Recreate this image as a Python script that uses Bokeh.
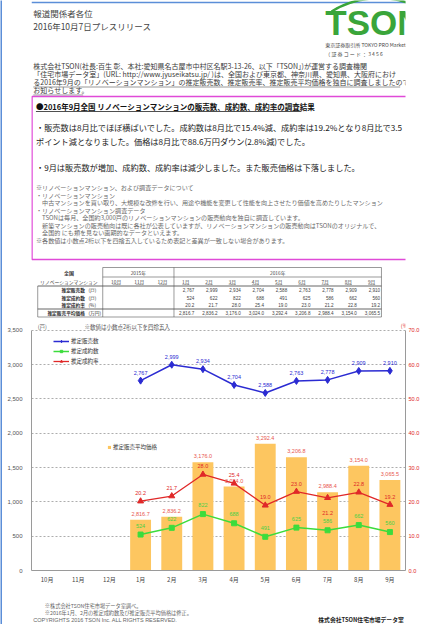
from bokeh.plotting import figure
from bokeh.models import (Range1d, FactorRange, LinearAxis, ColumnDataSource, Legend,
                          LegendItem, NumeralTickFormatter, FixedTicker, Label)
from bokeh.layouts import column, row
from bokeh.core.properties import value
from bokeh.embed import file_html
from bokeh.resources import INLINE

JP = "Noto Sans CJK JP"
LAT = "Liberation Sans"

# ---------------- data ----------------
months_all = ["10月", "11月", "12月", "1月", "2月", "3月", "4月", "5月", "6月", "7月", "8月", "9月"]
months_2016 = ["1月", "2月", "3月", "4月", "5月", "6月", "7月", "8月", "9月"]
year_labels = ["2015年", "2016年"]
listings = [2767, 2999, 2934, 2704, 2588, 2763, 2778, 2909, 2910]      # 推定販売数 (戸)
contracts = [524, 622, 822, 688, 491, 625, 586, 662, 560]               # 推定成約数 (戸)
rate = [20.2, 21.7, 28.0, 25.4, 19.0, 23.0, 21.2, 22.8, 19.2]           # 推定成約率 (%)
price = [2816.7, 2836.2, 3176.0, 3024.0, 3292.4, 3206.8, 2988.4, 3154.0, 3065.5]  # 推定販売平均価格 (万円)
left_ticks = [0, 500, 1000, 1500, 2000, 2500, 3000, 3500]
right_ticks = [0, 10, 20, 30, 40, 50, 60, 70]
price_range = (2500, 4000)
series_names = ["推定販売数", "推定成約数", "推定成約率"]
price_name = "推定販売平均価格"
row_names = ["推定販売数", "推定成約数", "推定成約率", "推定販売平均価格"]
row_units = ["(戸)", "(戸)", "(%)", "(万円)"]

# ---------------- styles ----------------
BLUE = "#2b2bd2"
GREEN = "#3cdc3c"
RED = "#e02828"
BAR = "#fdc660"
BAR_LAB = "#e8564e"
MAG = "#e04ad8"
FRAME_BLUE = "#5b8ed8"
DARK = "#333333"
HEAD = 3600 / 3500   # headroom above the top gridline for the unit captions


def T(p, x, y, s, size, color=DARK, bold=False, align="left", font=JP):
    p.text(x=[x], y=[y], text=[s], text_font=value(font), text_font_size=f"{size}px",
           text_color=color, text_align=align, text_baseline="middle",
           text_font_style="bold" if bold else "normal")


def page_fig(h, y0, y1):
    p = figure(width=420, height=h, x_range=Range1d(10, 430), y_range=Range1d(y1, y0),
               x_axis_location=None, y_axis_location=None, output_backend="svg",
               toolbar_location=None, min_border=0, title=None)
    p.grid.visible = False
    p.outline_line_color = None
    p.background_fill_color = "white"
    p.border_fill_color = "white"
    return p


# ================= top part (page coordinates) =================
pa = page_fig(323, 8, 331)
pa.segment(x0=[10], y0=[10], x1=[430], y1=[10], line_color=FRAME_BLUE, line_width=1.5)

T(pa, 12, 20.7, "報道関係者各位", 8.5, "#444")
T(pa, 12, 33, "2016年10月7日プレスリリース", 8.5, "#444")

# logo
pa.bezier(x0=[347], y0=[19], x1=[440], y1=[13], cx0=[375], cy0=[3], cx1=[414], cy1=[2],
          line_color="#3aa53a", line_width=2.5)
T(pa, 340, 29.5, "TSON", 35, "#3aa53a", bold=True, font=LAT)
T(pa, 340, 51.5, "東京証券取引所 TOKYO PRO Market", 5.0, "#444")
T(pa, 340, 60.5, "（ 証 券 コ ー ド ： 3 4 5 6", 5.0, "#444")

para = [
    "株式会社TSON(社長:百生 彰、本社:愛知県名古屋市中村区名駅3-13-26、以下「TSON」)が運営する調査機関",
    "「住宅市場データ室」(URL: http://www.jyuseikatsu.jp/ )は、全国および東京都、神奈川県、愛知県、大阪府におけ",
    "る2016年9月の「リノベーションマンション」の推定販売数、推定販売率、推定販売平均価格を独自に調査しましたので",
    "お知らせします。",
]
for i, s in enumerate(para):
    T(pa, 12, 73 + 8.2 * i, s, 7.0, "#3a3a3a")
pa.segment(x0=[12, 12], y0=[94.5, 102.5], x1=[424, 68], y1=[94.5, 102.5], line_color="#555", line_width=0.6)

# magenta box
pa.quad(left=[10.5], right=[433], top=[104], bottom=[267], fill_color=None, line_color=MAG, line_width=1.6)
T(pa, 15, 114, "●2016年9月全国 リノベーションマンションの販売数、成約数、成約率の調査結果", 7.5, "#111", bold=True)
pa.segment(x0=[15], y0=[119], x1=[313], y1=[119], line_color="#222", line_width=0.8)

T(pa, 15, 134, "・販売数は8月比でほぼ横ばいでした。成約数は8月比で15.4%減、成約率は19.2%となり8月比で3.5", 8.2, "#222")
T(pa, 15, 148.5, "ポイント減となりました。価格は8月比で88.6万円ダウン(2.8%減)でした。", 8.2, "#222")
T(pa, 15, 174.5, "・9月は販売数が増加、成約数、成約率は減少しました。また販売価格は下落しました。", 8.2, "#222")

notes = [
    "※リノベーションマンション、および調査データについて",
    "・リノベーションマンション",
    "　中古マンションを買い取り、大規模な改修を行い、用途や機能を変更して性能を向上させたり価値を高めたりしたマンション",
    "・リノベーションマンション調査データ",
    "　TSONは毎月、全国約3,000戸のリノベーションマンションの販売動向を独自に調査しています。",
    "　新築マンションの販売動向は既に各社が公表していますが、リノベーションマンションの販売動向はTSONのオリジナルで、",
    "　全国的 にも類を見ない画期的なデータといえます。",
    "※各数値は小数点2桁以下を四捨五入しているため表記と差異が一致しない場合があります。",
]
for i, s in enumerate(notes):
    T(pa, 15, 195 + 7.5 * i, s, 6.1, "#6a6a6a")

# ---- data table ----
tx0, tlab, tdiv, tx1 = 17, 90, 170, 403
ty_top, ty_year, ty_mon, ty_split, ty_bot = 275, 284.5, 293.5, 316.5, 324.5
cw = (tx1 - tlab) / len(months_all)
LC = "#555555"
pa.segment(x0=[tlab, tlab, tx0, tx0, tx0], y0=[ty_top, ty_year, ty_mon, ty_split, ty_bot],
           x1=[tx1] * 5, y1=[ty_top, ty_year, ty_mon, ty_split, ty_bot],
           line_color=LC, line_width=[0.6, 0.6, 0.9, 0.9, 0.6])
pa.segment(x0=[tx0, tlab, tdiv, tx1], y0=[ty_mon, ty_top, ty_top, ty_top],
           x1=[tx0, tlab, tdiv, tx1], y1=[ty_bot] * 4, line_color=LC, line_width=0.6)
T(pa, 52, 280, "全国", 5, "#333", bold=True, align="center")
T(pa, 52, 289, "リノベーションマンション", 4.8, "#444", align="center")
T(pa, (tlab + tdiv) / 2, 280, year_labels[0], 4.8, "#444", align="center")
T(pa, (tdiv + tx1) / 2, 280, year_labels[1], 4.8, "#444", align="center")
mcx = [tlab + cw * (j + 0.5) + 2 for j in range(len(months_all))]
pa.text(x=mcx, y=[289] * len(mcx), text=months_all, text_font=value(JP), text_font_size="4.8px",
        text_color="#444", text_align="center", text_baseline="middle")
pa.segment(x0=[c - 4 for c in mcx], y0=[292] * len(mcx), x1=[c + 4 for c in mcx], y1=[292] * len(mcx),
           line_color="#666", line_width=0.4)
row_y = [297.3, 305.0, 312.7, 320.5]
for k in range(4):
    T(pa, 70, row_y[k], row_names[k], 4.7, "#333", bold=True, align="right")
    T(pa, 74, row_y[k], row_units[k], 4.7, "#333")
rx = [tlab + cw * (j + 4) - 1.5 for j in range(len(months_2016))]
row_texts = [[f"{v:,}" for v in listings], [f"{v:,}" for v in contracts],
             [f"{v:.1f}" for v in rate], [f"{v:,.1f}" for v in price]]
for k in range(4):
    pa.text(x=rx, y=[row_y[k]] * len(rx), text=row_texts[k], text_font=value(LAT),
            text_font_size="4.6px", text_color="#444", text_align="right", text_baseline="middle")

# ================= chart =================
pc = figure(frame_width=374, frame_height=247, x_range=FactorRange(*months_all),
            y_range=Range1d(0, left_ticks[-1] * HEAD),
            output_backend="svg", toolbar_location=None, title=None,
            min_border_left=29, min_border_right=12, min_border_top=0, min_border_bottom=22)
pc.extra_y_ranges = {
    "price": Range1d(price_range[0], price_range[0] + (price_range[1] - price_range[0]) * HEAD),
    "rate": Range1d(0, right_ticks[-1] * HEAD),
}
pc.outline_line_color = None
pc.background_fill_color = "white"
pc.border_fill_color = "white"
pc.xgrid.visible = False
pc.ygrid.grid_line_color = "#8a8a8a"
pc.ygrid.grid_line_dash = "2 2"
pc.ygrid.grid_line_width = 0.7

la = pc.yaxis[0]
la.ticker = FixedTicker(ticks=left_ticks)
la.formatter = NumeralTickFormatter(format="0,0")
la.bounds = (left_ticks[0], left_ticks[-1])
ra = LinearAxis(y_range_name="rate", ticker=FixedTicker(ticks=right_ticks),
                formatter=NumeralTickFormatter(format="0.0"),
                bounds=(right_ticks[0], right_ticks[-1]))
pc.add_layout(ra, "right")
for ax in (la, ra, pc.xaxis[0]):
    ax.axis_line_color = "#9a9a9a"
    ax.axis_line_width = 1
    ax.major_tick_line_color = None
    ax.minor_tick_line_color = None
    ax.major_tick_out = 0
    ax.major_tick_in = 0
    ax.major_label_text_font_size = "6px"
    ax.major_label_text_font = LAT
la.major_label_text_color = "#555"
la.major_label_standoff = 9
ra.major_label_text_color = RED
ra.major_label_text_font_size = "5.6px"
ra.major_label_standoff = 3
xa = pc.xaxis[0]
xa.major_label_text_font = JP
xa.major_label_text_color = "#444"
xa.major_label_standoff = 4

src = ColumnDataSource(dict(
    m=months_2016, price=price, listings=listings, contracts=contracts, rate=rate,
    price_lab=[f"{v:,.1f}" for v in price],
    list_lab=[f"{v:,}" for v in listings],
    con_lab=[f"{v:,}" for v in contracts],
    rate_lab=[f"{v:.1f}" for v in rate],
    rate_dy=[15 if m == "7月" else -8 for m in months_2016],
))

bars = pc.vbar(x="m", top="price", bottom=price_range[0], width=0.67, y_range_name="price",
               fill_color=BAR, line_color=None, source=src)
pc.text(x="m", y="price", text="price_lab", y_range_name="price", y_offset=-6, source=src,
        text_font=value(LAT), text_font_size="5.5px", text_color=BAR_LAB,
        text_align="center", text_baseline="middle")

bl = pc.line(x="m", y="listings", line_color=BLUE, line_width=1.5, source=src)
bs = pc.scatter(x="m", y="listings", marker="diamond", size=7, color=BLUE, source=src)
pc.text(x="m", y="listings", text="list_lab", y_offset=-8, source=src, text_font=value(LAT),
        text_font_size="5.5px", text_color=BLUE, text_align="center", text_baseline="middle")

gl = pc.line(x="m", y="contracts", line_color=GREEN, line_width=1.5, source=src)
gs = pc.scatter(x="m", y="contracts", marker="square", size=5, color=GREEN, source=src)
pc.text(x="m", y="contracts", text="con_lab", y_offset=-9, source=src, text_font=value(LAT),
        text_font_size="5.5px", text_color="#47d047", text_align="center", text_baseline="middle")

rl = pc.line(x="m", y="rate", line_color=RED, line_width=1.3, y_range_name="rate", source=src)
rs = pc.scatter(x="m", y="rate", marker="triangle", size=6, color=RED, y_range_name="rate", source=src)
pc.text(x="m", y="rate", text="rate_lab", y_offset="rate_dy", y_range_name="rate", source=src,
        text_font=value(LAT), text_font_size="5.5px", text_color=RED,
        text_align="center", text_baseline="middle")

leg1 = Legend(items=[LegendItem(label=series_names[0], renderers=[bl, bs]),
                     LegendItem(label=series_names[1], renderers=[gl, gs]),
                     LegendItem(label=series_names[2], renderers=[rl, rs])],
              location=(22, 205), orientation="vertical", label_text_font=JP,
              label_text_font_size="5.5px", label_text_color="#333", glyph_width=16,
              glyph_height=6, label_height=6, label_width=10, spacing=2, padding=0, margin=0,
              label_standoff=2, border_line_color=None, background_fill_alpha=0)
pc.add_layout(leg1)
leg2 = Legend(items=[LegendItem(label=price_name, renderers=[bars])],
              location=(76, 119), label_text_font=JP, label_text_font_size="5.5px",
              label_text_color="#333", glyph_width=4, glyph_height=4, label_height=6,
              label_width=10, padding=0, margin=0, label_standoff=2,
              border_line_color=None, background_fill_alpha=0)
pc.add_layout(leg2)

cap_y = left_ticks[-1] * (1 + HEAD) / 2
pc.add_layout(Label(x=0.2, y=cap_y, text="(戸)", text_font=JP, text_font_size="5.5px",
                    text_color="#555", text_baseline="middle"))
pc.add_layout(Label(x=1.7, y=cap_y, text="※数値は小数点2桁以下を四捨五入", text_font=JP,
                    text_font_size="5.5px", text_color="#555", text_baseline="middle"))
pc.add_layout(Label(x=11.85, y=cap_y + 20, text="(%)", text_font=JP, text_font_size="5.5px",
                    text_color=RED, text_baseline="middle"))

# ================= footer =================
pf = page_fig(32, 600, 632)
T(pf, 25, 612.5, "※株式会社TSON住宅市場データ室調べ。", 5.2, "#666")
T(pf, 25, 619.5, "※2016年1月、2月の推定成約数及び推定販売平均価格は修正。", 5.2, "#666")
T(pf, 12, 627, "COPYRIGHTS 2016 TSON Inc. ALL RIGHTS RESERVED.", 5.5, "#666", font=LAT)
T(pf, 428, 627, "株式会社TSON住宅市場データ室", 5.8, "#222", bold=True, align="right")

# blue left border strip
strip = figure(width=2, height=624, x_axis_location=None, y_axis_location=None,
               output_backend="svg", toolbar_location=None, min_border=0, title=None)
strip.grid.visible = False
strip.outline_line_color = None
strip.background_fill_color = FRAME_BLUE
strip.border_fill_color = FRAME_BLUE

layout = row(strip, column(pa, pc, pf, spacing=0), spacing=0)
open("out.html", "w").write(file_html(layout, INLINE))
